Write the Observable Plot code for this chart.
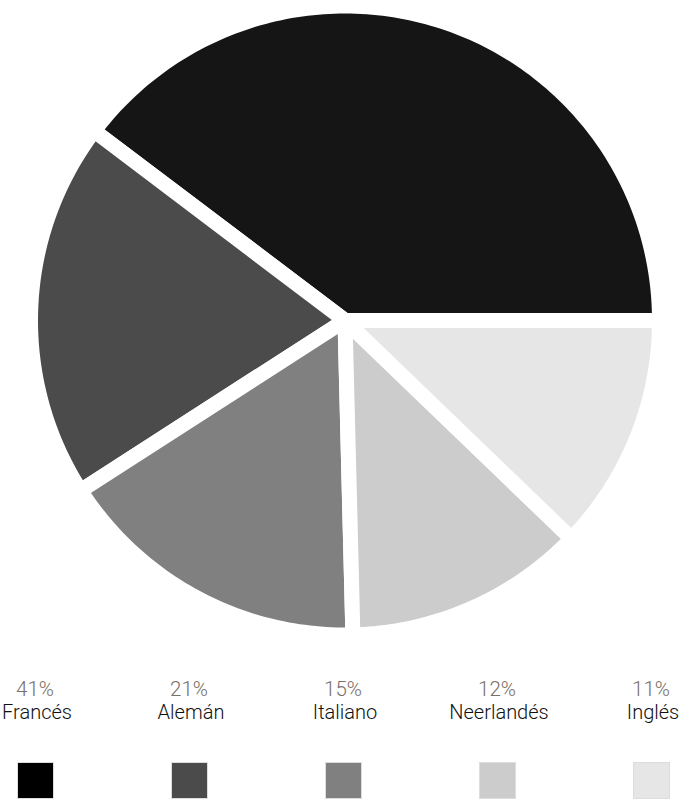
<!DOCTYPE html>
<html>
<head>
<meta charset="utf-8">
<script src="https://cdn.jsdelivr.net/npm/d3@7"></script>
<script src="https://cdn.jsdelivr.net/npm/@observablehq/plot@0.6"></script>
<style>
  html, body { margin: 0; padding: 0; background: #fff; overflow: hidden; width: 689px; height: 800px; }
  #chart { position: absolute; left: 0; top: 0; }
  .row { position: absolute; left: -42px; width: 770px; display: grid; grid-template-columns: repeat(5, 1fr); }
  .row div { text-align: center; font-family: Roboto, "Noto Sans", sans-serif; font-weight: 300; white-space: nowrap; }
  .pct div { color: #7a6f66; font-size: 20.5px; line-height: 21px; }
  .name div { color: #111; font-size: 20px; line-height: 21px; }
  .sw { position: absolute; left: -42px; width: 770px; top: 762px; display: grid; grid-template-columns: repeat(5, 1fr); }
  .sw div { justify-self: center; width: 37px; height: 37px; box-sizing: border-box; border: 1px solid #ddd; }
</style>
</head>
<body>
<div id="chart"></div>
<div class="row pct" id="pct" style="top:679px"></div>
<div class="row name" id="names" style="top:702px; left:-40px"></div>
<div class="sw" id="swatches"></div>
<script>
// Data (slice shares; labels as printed)
const languages = ["Francés", "Alemán", "Italiano", "Neerlandés", "Inglés"];
const shares = [39.7, 19.4, 16.3, 12.4, 12.2];
const percentLabels = ["41%", "21%", "15%", "12%", "11%"];
const colors = ["#151515", "#4b4b4b", "#808080", "#cccccc", "#e6e6e6"];

// Build slice outlines in unit-circle coordinates, counterclockwise from 3 o'clock
const total = d3.sum(shares);
const slicePoints = [];
let start = 0;
shares.forEach((v, i) => {
  const end = start + (v / total) * 2 * Math.PI;
  slicePoints.push({name: languages[i], x: 0, y: 0});
  const steps = Math.max(2, Math.ceil((end - start) / (Math.PI / 180)));
  for (let k = 0; k <= steps; k++) {
    const a = start + (end - start) * k / steps;
    slicePoints.push({name: languages[i], x: Math.cos(a), y: Math.sin(a)});
  }
  start = end;
});

const cx = 344.5, cy = 320, R = 314.5;
const chart = Plot.plot({
  width: 689,
  height: 645,
  margin: 0,
  x: {domain: [-1, 1], range: [cx - R, cx + R], axis: null},
  y: {domain: [-1, 1], range: [cy + R, cy - R], axis: null},
  marks: languages.map((name, i) =>
    Plot.line(slicePoints.filter(d => d.name === name), {
      x: "x", y: "y",
      fill: colors[i],
      stroke: "white",
      strokeWidth: 15,
      strokeLinejoin: "round",
      curve: "linear-closed"
    })
  )
});
document.getElementById("chart").appendChild(chart);

// Legend
const pct = document.getElementById("pct");
const names = document.getElementById("names");
const sw = document.getElementById("swatches");
languages.forEach((name, i) => {
  const p = document.createElement("div"); p.textContent = percentLabels[i]; pct.appendChild(p);
  const n = document.createElement("div"); n.textContent = name; names.appendChild(n);
  const s = document.createElement("div"); s.style.background = i === 0 ? "#000" : colors[i]; sw.appendChild(s);
});
</script>
</body>
</html>
